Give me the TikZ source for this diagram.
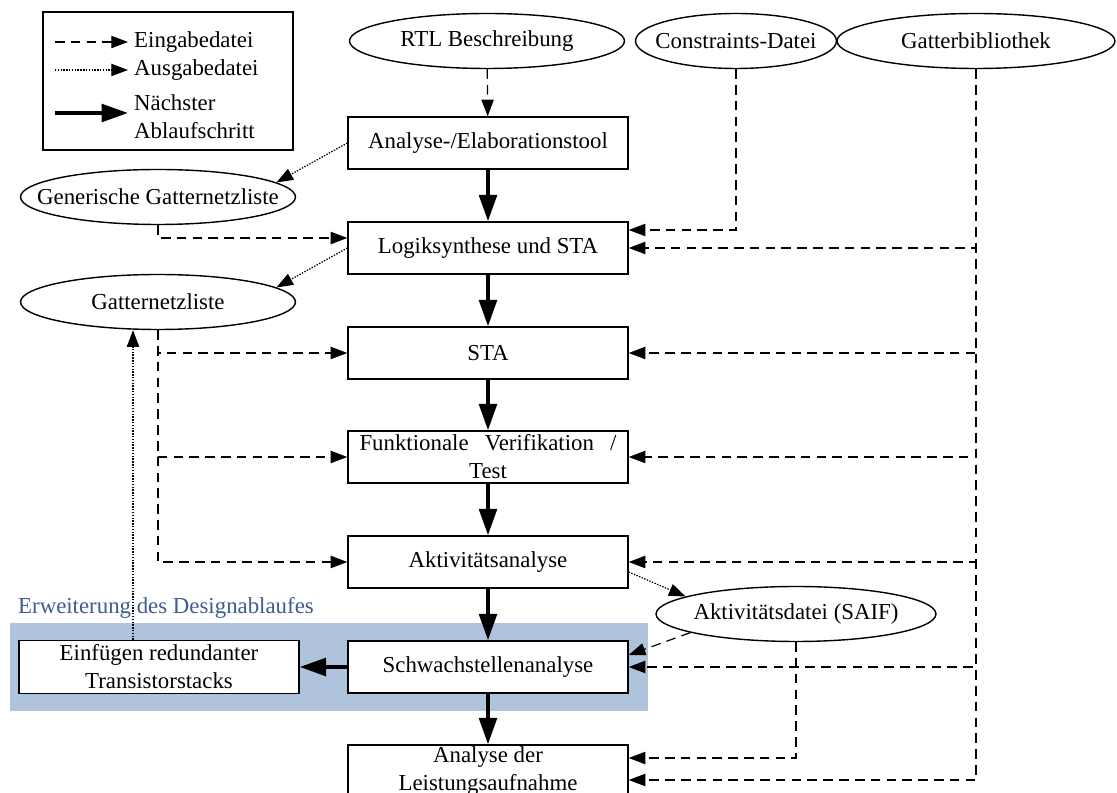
\documentclass[tikz,border=0pt]{standalone}
\usepackage{fontspec}
\setmainfont{Liberation Serif}
\usetikzlibrary{shapes.geometric,arrows.meta,calc}
\definecolor{erwblau}{RGB}{176,195,220}
\definecolor{erwtext}{RGB}{62,92,142}

\begin{document}
\begin{tikzpicture}
[
    x=0.02cm, y=-0.02cm,
    font=\fontsize{13}{16}\selectfont,
    block/.style={draw, line width=0.8pt, fill=white, minimum width=5.6cm, minimum height=1.04cm, inner sep=0pt, align=center},
    datei/.style={draw, ellipse, line width=0.8pt, fill=white, minimum width=5.5cm, minimum height=1.1cm, inner xsep=-2cm, inner ysep=0pt},
    eingabe/.style={line width=0.7pt, dash pattern=on 5.5pt off 3.5pt, -{Triangle[length=9.5pt,width=7pt]}},
    ausgabe/.style={line width=0.7pt, dash pattern=on 0.8pt off 0.8pt, -{Triangle[length=9.5pt,width=7pt]}},
    schritt/.style={line width=2.2pt, -{Triangle[length=15pt,width=10pt]}},
]
\useasboundingbox (0,0) rectangle (1117,793);
\clip (0,0) rectangle (1117,793);

\fill[erwblau] (10,623) rectangle (648,711);
\node[text=erwtext, anchor=west] (erw) at (12,608) {Erweiterung des Designablaufes};

\node[draw, line width=0.8pt, minimum width=5cm, minimum height=2.76cm] (legende) at (168,81) {};
\node[anchor=west] (lein) at (128,42) {Eingabedatei};
\node[anchor=west] (laus) at (128,70) {Ausgabedatei};
\node[anchor=west, align=left] (lsch) at (128,117) {Nächster\\Ablaufschritt};
\coordinate (lein0) at (55,42);
\coordinate (laus0) at (55,70);
\coordinate (lsch0) at (55,113);
\draw[eingabe] (lein0) -- (lein.west);
\draw[ausgabe] (laus0) -- (laus.west);
\draw[schritt] (lsch0) -- (lsch0 -| lsch.west);

\node[datei] (rtl) at (487,41) {RTL Beschreibung};
\node[datei, minimum width=4.02cm] (cons) at (736,41) {Constraints-Datei};
\node[datei, minimum width=5.56cm] (gb) at (976,41) {Gatterbibliothek};

\node[block] (ana) at (488,143) {Analyse-/Elaborationstool};
\node[block] (logik) at (488,248) {Logiksynthese und STA};
\node[block] (sta) at (488,353) {STA};
\node[block, text width=5.14cm] (funk) at (488,457) {Funktionale\hfill Verifikation\hfill /\\Test};
\node[block] (akt) at (488,562) {Aktivitätsanalyse};
\node[block] (schw) at (488,667) {Schwachstellenanalyse};
\node[block] (leist) at (488,771) {Analyse der\\Leistungsaufnahme};

\node[datei] (gen) at (158,197) {Generische Gatternetzliste};
\node[datei] (gnl) at (158,302) {Gatternetzliste};
\node[block, minimum height=1.06cm] (einf) at (159,667) {Einfügen redundanter\\Transistorstacks};
\node[datei, minimum width=5.6cm] (saif) at (796,614) {Aktivitätsdatei (SAIF)};

\draw[schritt] (ana) -- (logik);
\draw[schritt] (logik) -- (sta);
\draw[schritt] (sta) -- (funk);
\draw[schritt] (funk) -- (akt);
\draw[schritt] (akt) -- (schw);
\draw[schritt] (schw) -- (leist);
\draw[schritt] (schw) -- (einf);

\draw[eingabe] (rtl) -- (ana);
\draw[eingabe] (cons.south) |- ($(logik.east)+(0,-18)$);
\foreach \ziel in {logik,sta,funk,akt,schw}
    \draw[eingabe] (gb.south) |- (\ziel.east);
\draw[eingabe] (gb.south) |- ($(leist.east)+(0,9)$);

\draw[ausgabe] (ana.west) -- (gen.7);
\draw[ausgabe] (logik.west) -- (gnl.7);
\draw[eingabe] (gen.south) |- ($(logik.west)+(0,-10)$);
\foreach \ziel in {sta,funk,akt}
    \draw[eingabe] (gnl.south) |- (\ziel.west);

\draw[ausgabe] ($(akt.east)+(0,10)$) -- (saif.171);
\draw[eingabe] (saif.190) -- ($(schw.east)+(0,-12)$);
\draw[eingabe] (saif.south) |- ($(leist.east)+(0,-13)$);
\draw[ausgabe] ($(einf.north)+(-26,0)$) coordinate (rueck) -- (rueck |- gnl.south);
\end{tikzpicture}
\end{document}
